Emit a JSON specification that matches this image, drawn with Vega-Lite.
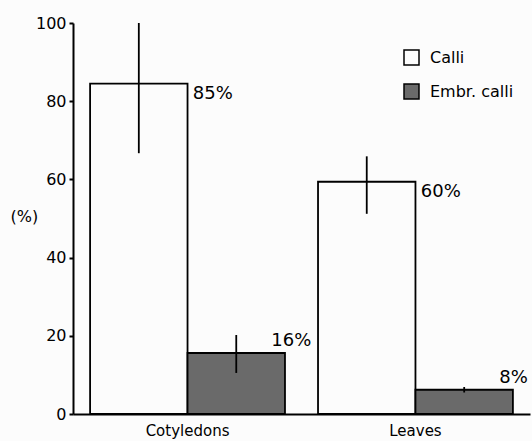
{
  "$schema": "https://vega.github.io/schema/vega-lite/v6.json",
  "width": 457,
  "height": 391,
  "autosize": {"type": "none"},
  "padding": {"left": 73, "top": 23, "right": 2, "bottom": 27},
  "background": "#fcfcfc",
  "config": {
    "font": "DejaVu Sans",
    "view": {"stroke": null},
    "axis": {"domainColor": "black", "domainWidth": 2, "tickColor": "black", "tickWidth": 2, "labelColor": "black", "titleColor": "black", "grid": false}
  },
  "data": {
    "values": [
      {"Source": "Cotyledons", "Type": "Calli", "value": 84.5, "lo": 66.7, "hi": 100, "label": "85%"},
      {"Source": "Cotyledons", "Type": "Embr. calli", "value": 15.6, "lo": 10.5, "hi": 20.2, "label": "16%"},
      {"Source": "Leaves", "Type": "Calli", "value": 59.4, "lo": 51.2, "hi": 65.9, "label": "60%"},
      {"Source": "Leaves", "Type": "Embr. calli", "value": 6.2, "lo": 5.5, "hi": 6.9, "label": "8%"}
    ]
  },
  "encoding": {
    "x": {
      "field": "Source", "type": "nominal", "sort": ["Cotyledons", "Leaves"],
      "scale": {"paddingInner": 0.145, "paddingOuter": 0.075},
      "axis": {"title": null, "labelAngle": 0, "ticks": false, "labelFontSize": 15, "labelPadding": 9, "domainWidth": 2}
    },
    "xOffset": {"field": "Type", "type": "nominal", "sort": ["Calli", "Embr. calli"], "scale": {"paddingInner": 0, "paddingOuter": 0}}
  },
  "layer": [
    {
      "mark": {"type": "bar", "stroke": "black", "strokeWidth": 1.8},
      "encoding": {
        "y": {
          "field": "value", "type": "quantitative",
          "scale": {"domain": [0, 100], "nice": false},
          "axis": {"values": [0, 20, 40, 60, 80, 100], "tickSize": 4, "labelFontSize": 16, "labelPadding": 3, "title": "(%)", "titleAngle": 0, "titleFontSize": 16, "titleFontWeight": "normal", "titleX": -63, "titleY": 193, "titleAlign": "left", "titleBaseline": "middle"}
        },
        "fill": {
          "field": "Type", "type": "nominal",
          "scale": {"domain": ["Calli", "Embr. calli"], "range": ["#fcfcfc", "#6a6a6a"]},
          "legend": {"title": null, "orient": "none", "legendX": 330, "legendY": 26, "symbolType": "square", "symbolSize": 225, "symbolStrokeColor": "black", "symbolStrokeWidth": 1.5, "labelFontSize": 16, "labelColor": "black", "rowPadding": 13, "labelOffset": 10}
        }
      }
    },
    {
      "mark": {"type": "rule", "color": "black", "strokeWidth": 1.8},
      "encoding": {
        "y": {"field": "lo", "type": "quantitative"},
        "y2": {"field": "hi"}
      }
    },
    {
      "transform": [{"filter": "datum.Type === 'Calli'"}],
      "mark": {"type": "text", "align": "left", "baseline": "middle", "dx": 54, "dy": 10, "fontSize": 18, "color": "black"},
      "encoding": {
        "y": {"field": "value", "type": "quantitative"},
        "text": {"field": "label"}
      }
    },
    {
      "transform": [{"filter": "datum.Type === 'Embr. calli'"}],
      "mark": {"type": "text", "align": "left", "baseline": "middle", "dx": 35, "dy": -12, "fontSize": 18, "color": "black"},
      "encoding": {
        "y": {"field": "value", "type": "quantitative"},
        "text": {"field": "label"}
      }
    }
  ]
}
